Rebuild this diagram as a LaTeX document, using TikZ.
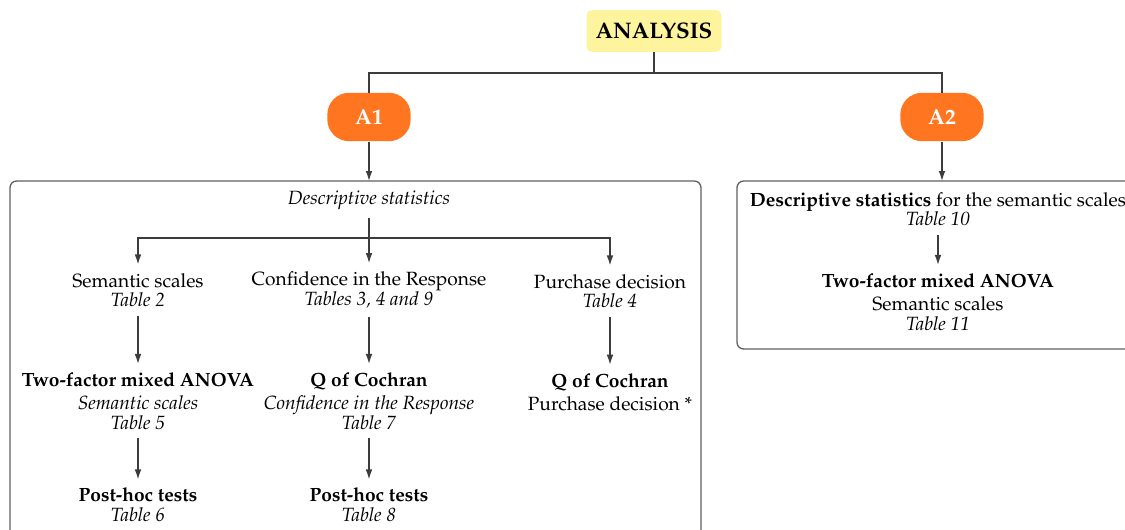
\documentclass[tikz,border=0pt]{standalone}
\usepackage[T1]{fontenc}
\usepackage{mathpazo}
\usetikzlibrary{arrows.meta,positioning,calc}
\definecolor{notepad}{RGB}{255,244,158}
\definecolor{branch}{RGB}{255,117,32}
\definecolor{wire}{RGB}{60,60,60}
\definecolor{frame}{RGB}{95,95,95}

\begin{document}
\begin{tikzpicture}[x=0.6pt,y=-0.6pt,
    wire/.style={draw=wire,line width=0.8pt},
    flow/.style={wire,-{Latex[length=6pt,width=4pt]}},
    panel/.style={draw=frame,line width=0.8pt,rounded corners=4pt},
    item/.style={align=center,inner xsep=2pt,inner ysep=5pt,
      font=\fontsize{11.5}{11.8}\selectfont},
    head/.style={fill=notepad,rounded corners=3pt,font=\fontsize{13.5}{16}\selectfont\bfseries,
      minimum width=81pt,minimum height=25pt},
    pill/.style={fill=branch,text=white,rounded corners=13pt,font=\fontsize{13}{16}\selectfont\bfseries,
      minimum width=50pt,minimum height=29pt}]

    \useasboundingbox (0,0) rectangle (1125,529);
    \clip (0,0) rectangle (1125,529);

    % top of the tree
    \node[head] (analysis) at (654,31) {ANALYSIS};
    \node[pill] (a1) at (369,117) {A1};
    \node[pill] (a2) at (942,117) {A2};

    \coordinate (split) at (654,73);
    \draw[wire] (analysis) -- (split);
    \draw[wire] (split) -| (a1);
    \draw[wire] (split) -| (a2);

    % the two panels
    \draw[panel] (10,181) rectangle (701,560);
    \draw[panel] (737,181) rectangle (1160,349);
    \coordinate (p1) at (369,181);
    \coordinate (p2) at (942,181);
    \draw[flow] (a1) -- (p1);
    \draw[flow] (a2) -- (p2);

    % A1
    \node[item] (desc) at (369,200) {\textit{Descriptive statistics}};

    \node[item] (sem) at (138,290) {Semantic scales\\\textit{Table 2}};
    \node[item] (conf) at (369,290) {Confidence in the Response\\\textit{Tables 3, 4 and 9}};
    \node[item] (pur) at (610,291) {Purchase decision\\\textit{Table 4}};

    \coordinate (fork) at (369,238);
    \draw[flow] (desc) -- (conf);
    \draw[flow] (fork) -| (sem);
    \draw[flow] (fork) -| (pur);

    \node[item] (anova) at (138,401) {\textbf{Two-factor mixed ANOVA}\\[2pt]\textit{Semantic scales}\\\textit{Table 5}};
    \node[item] (cochA) at (369,401) {\textbf{Q of Cochran}\\[2pt]\textit{Confidence in the Response}\\\textit{Table 7}};
    \node[item] (cochB) at (610,392) {\textbf{Q of Cochran}\\[2pt]Purchase decision *};

    \draw[flow] (sem) -- (anova);
    \draw[flow] (conf) -- (cochA);
    \draw[flow] (pur) -- (cochB);

    \node[item] (postA) at (138,505) {\textbf{Post-hoc tests}\\\textit{Table 6}};
    \node[item] (postB) at (369,505) {\textbf{Post-hoc tests}\\\textit{Table 8}};

    \draw[flow] (anova) -- (postA);
    \draw[flow] (cochA) -- (postB);

    % A2
    \node[item] (descR) at (938,209) {\textbf{Descriptive statistics} for the semantic scales\\\textit{Table 10}};
    \node[item] (anovaR) at (938,302) {\textbf{Two-factor mixed ANOVA}\\[2pt]Semantic scales\\\textit{Table 11}};
    \draw[flow] (descR) -- (anovaR);
\end{tikzpicture}
\end{document}
